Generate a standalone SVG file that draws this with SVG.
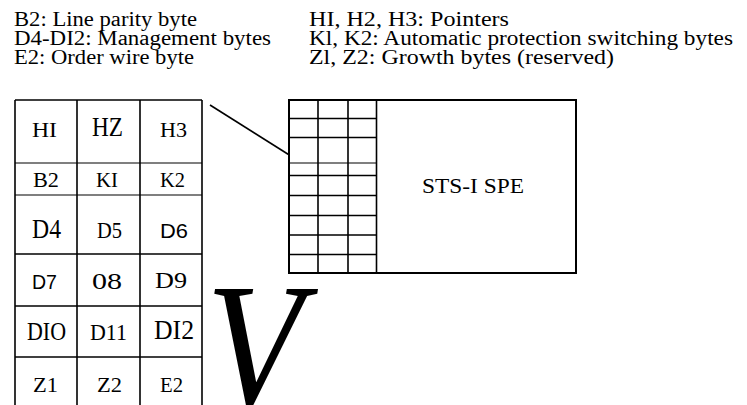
<svg xmlns="http://www.w3.org/2000/svg" width="747" height="405" viewBox="0 0 747 405">
<style>
text{font-family:"Liberation Serif","Times New Roman",serif;fill:#000}
.h{font-size:20px}
.s{font-family:"Liberation Sans",Arial,sans-serif}
.ln{stroke:#000;stroke-width:1.6;fill:none}
.thin{stroke:#000;stroke-width:1.1;fill:none}
.box{stroke:#000;stroke-width:2;fill:#fff}
</style>
<rect width="747" height="405" fill="#fff"/>
<g id="legend" class="h">
<text x="14" y="26" textLength="183" lengthAdjust="spacingAndGlyphs">B2: Line parity byte</text>
<text x="14" y="45" textLength="257" lengthAdjust="spacingAndGlyphs">D4-DI2: Management bytes</text>
<text x="14" y="64" textLength="180" lengthAdjust="spacingAndGlyphs">E2: Order wire byte</text>
<text x="309" y="26" textLength="200" lengthAdjust="spacingAndGlyphs">HI, H2, H3: Pointers</text>
<text x="309" y="45" textLength="424" lengthAdjust="spacingAndGlyphs">Kl, K2: Automatic protection switching bytes</text>
<text x="309" y="64" textLength="305" lengthAdjust="spacingAndGlyphs">Zl, Z2: Growth bytes (reserved)</text>
</g>
<g id="overhead-table">
<line class="ln" x1="15" y1="100" x2="202" y2="100"/>
<line class="ln" x1="15" y1="100" x2="15" y2="405"/>
<line class="ln" x1="77" y1="100" x2="77" y2="405"/>
<line class="ln" x1="140" y1="100" x2="140" y2="405"/>
<line class="ln" x1="202" y1="100" x2="202" y2="405"/>
<line class="thin" x1="15" y1="163" x2="202" y2="163"/>
<line class="thin" x1="15" y1="195" x2="202" y2="195"/>
<line class="ln" x1="15" y1="254" x2="202" y2="254"/>
<line class="ln" x1="15" y1="306" x2="202" y2="306"/>
<line class="ln" x1="15" y1="357" x2="202" y2="357"/>
<text x="32" y="137" font-size="21" textLength="25" lengthAdjust="spacingAndGlyphs">HI</text>
<text x="92" y="136" font-size="27" textLength="31" lengthAdjust="spacingAndGlyphs">HZ</text>
<text x="160" y="137" font-size="21" textLength="27" lengthAdjust="spacingAndGlyphs">H3</text>
<text x="33" y="187" font-size="21" textLength="26" lengthAdjust="spacingAndGlyphs">B2</text>
<text x="96" y="187" font-size="21" textLength="22" lengthAdjust="spacingAndGlyphs">KI</text>
<text x="160" y="187" font-size="21" textLength="25" lengthAdjust="spacingAndGlyphs">K2</text>
<text x="32" y="238" font-size="28" textLength="29" lengthAdjust="spacingAndGlyphs">D4</text>
<text x="97" y="238" font-size="24" textLength="25" lengthAdjust="spacingAndGlyphs">D5</text>
<text class="s" x="160" y="238" font-size="21" textLength="28" lengthAdjust="spacingAndGlyphs">D6</text>
<text class="s" x="32" y="289" font-size="21" textLength="25" lengthAdjust="spacingAndGlyphs">D7</text>
<text x="92" y="289" font-size="24" textLength="30" lengthAdjust="spacingAndGlyphs">08</text>
<text x="155" y="288" font-size="23" textLength="32" lengthAdjust="spacingAndGlyphs">D9</text>
<text x="27" y="340" font-size="25" textLength="39" lengthAdjust="spacingAndGlyphs">DIO</text>
<text x="90" y="340" font-size="23" textLength="37" lengthAdjust="spacingAndGlyphs">D11</text>
<text x="154" y="339" font-size="28" textLength="40" lengthAdjust="spacingAndGlyphs">DI2</text>
<text x="33" y="392" font-size="22" textLength="25" lengthAdjust="spacingAndGlyphs">Z1</text>
<text x="97" y="392" font-size="22" textLength="25" lengthAdjust="spacingAndGlyphs">Z2</text>
<text x="160" y="392" font-size="21" textLength="23" lengthAdjust="spacingAndGlyphs">E2</text>
</g>
<g id="sts1-frame">
<rect class="box" x="289" y="100" width="287" height="173"/>
<line class="ln" x1="318" y1="100" x2="318" y2="273"/>
<line class="ln" x1="348" y1="100" x2="348" y2="273"/>
<line class="ln" x1="376.5" y1="100" x2="376.5" y2="273"/>
<line class="ln" x1="289" y1="118.5" x2="376.5" y2="118.5"/>
<line class="ln" x1="289" y1="137.5" x2="376.5" y2="137.5"/>
<line class="thin" x1="289" y1="163" x2="376.5" y2="163"/>
<line class="ln" x1="289" y1="175.5" x2="376.5" y2="175.5"/>
<line class="ln" x1="289" y1="195.5" x2="376.5" y2="195.5"/>
<line class="ln" x1="289" y1="215.5" x2="376.5" y2="215.5"/>
<line class="ln" x1="289" y1="235" x2="376.5" y2="235"/>
<line class="ln" x1="289" y1="254.5" x2="376.5" y2="254.5"/>
<text x="422" y="193" font-size="21.5" textLength="102" lengthAdjust="spacingAndGlyphs">STS-I SPE</text>
</g>
<g id="connectors">
<line class="ln" x1="210" y1="105" x2="288.5" y2="154.5"/>
</g>
<g id="big-v">
<text transform="translate(206,407) scale(0.88,1)" x="0" y="0" font-size="180" font-style="italic">V</text>
</g>
</svg>
